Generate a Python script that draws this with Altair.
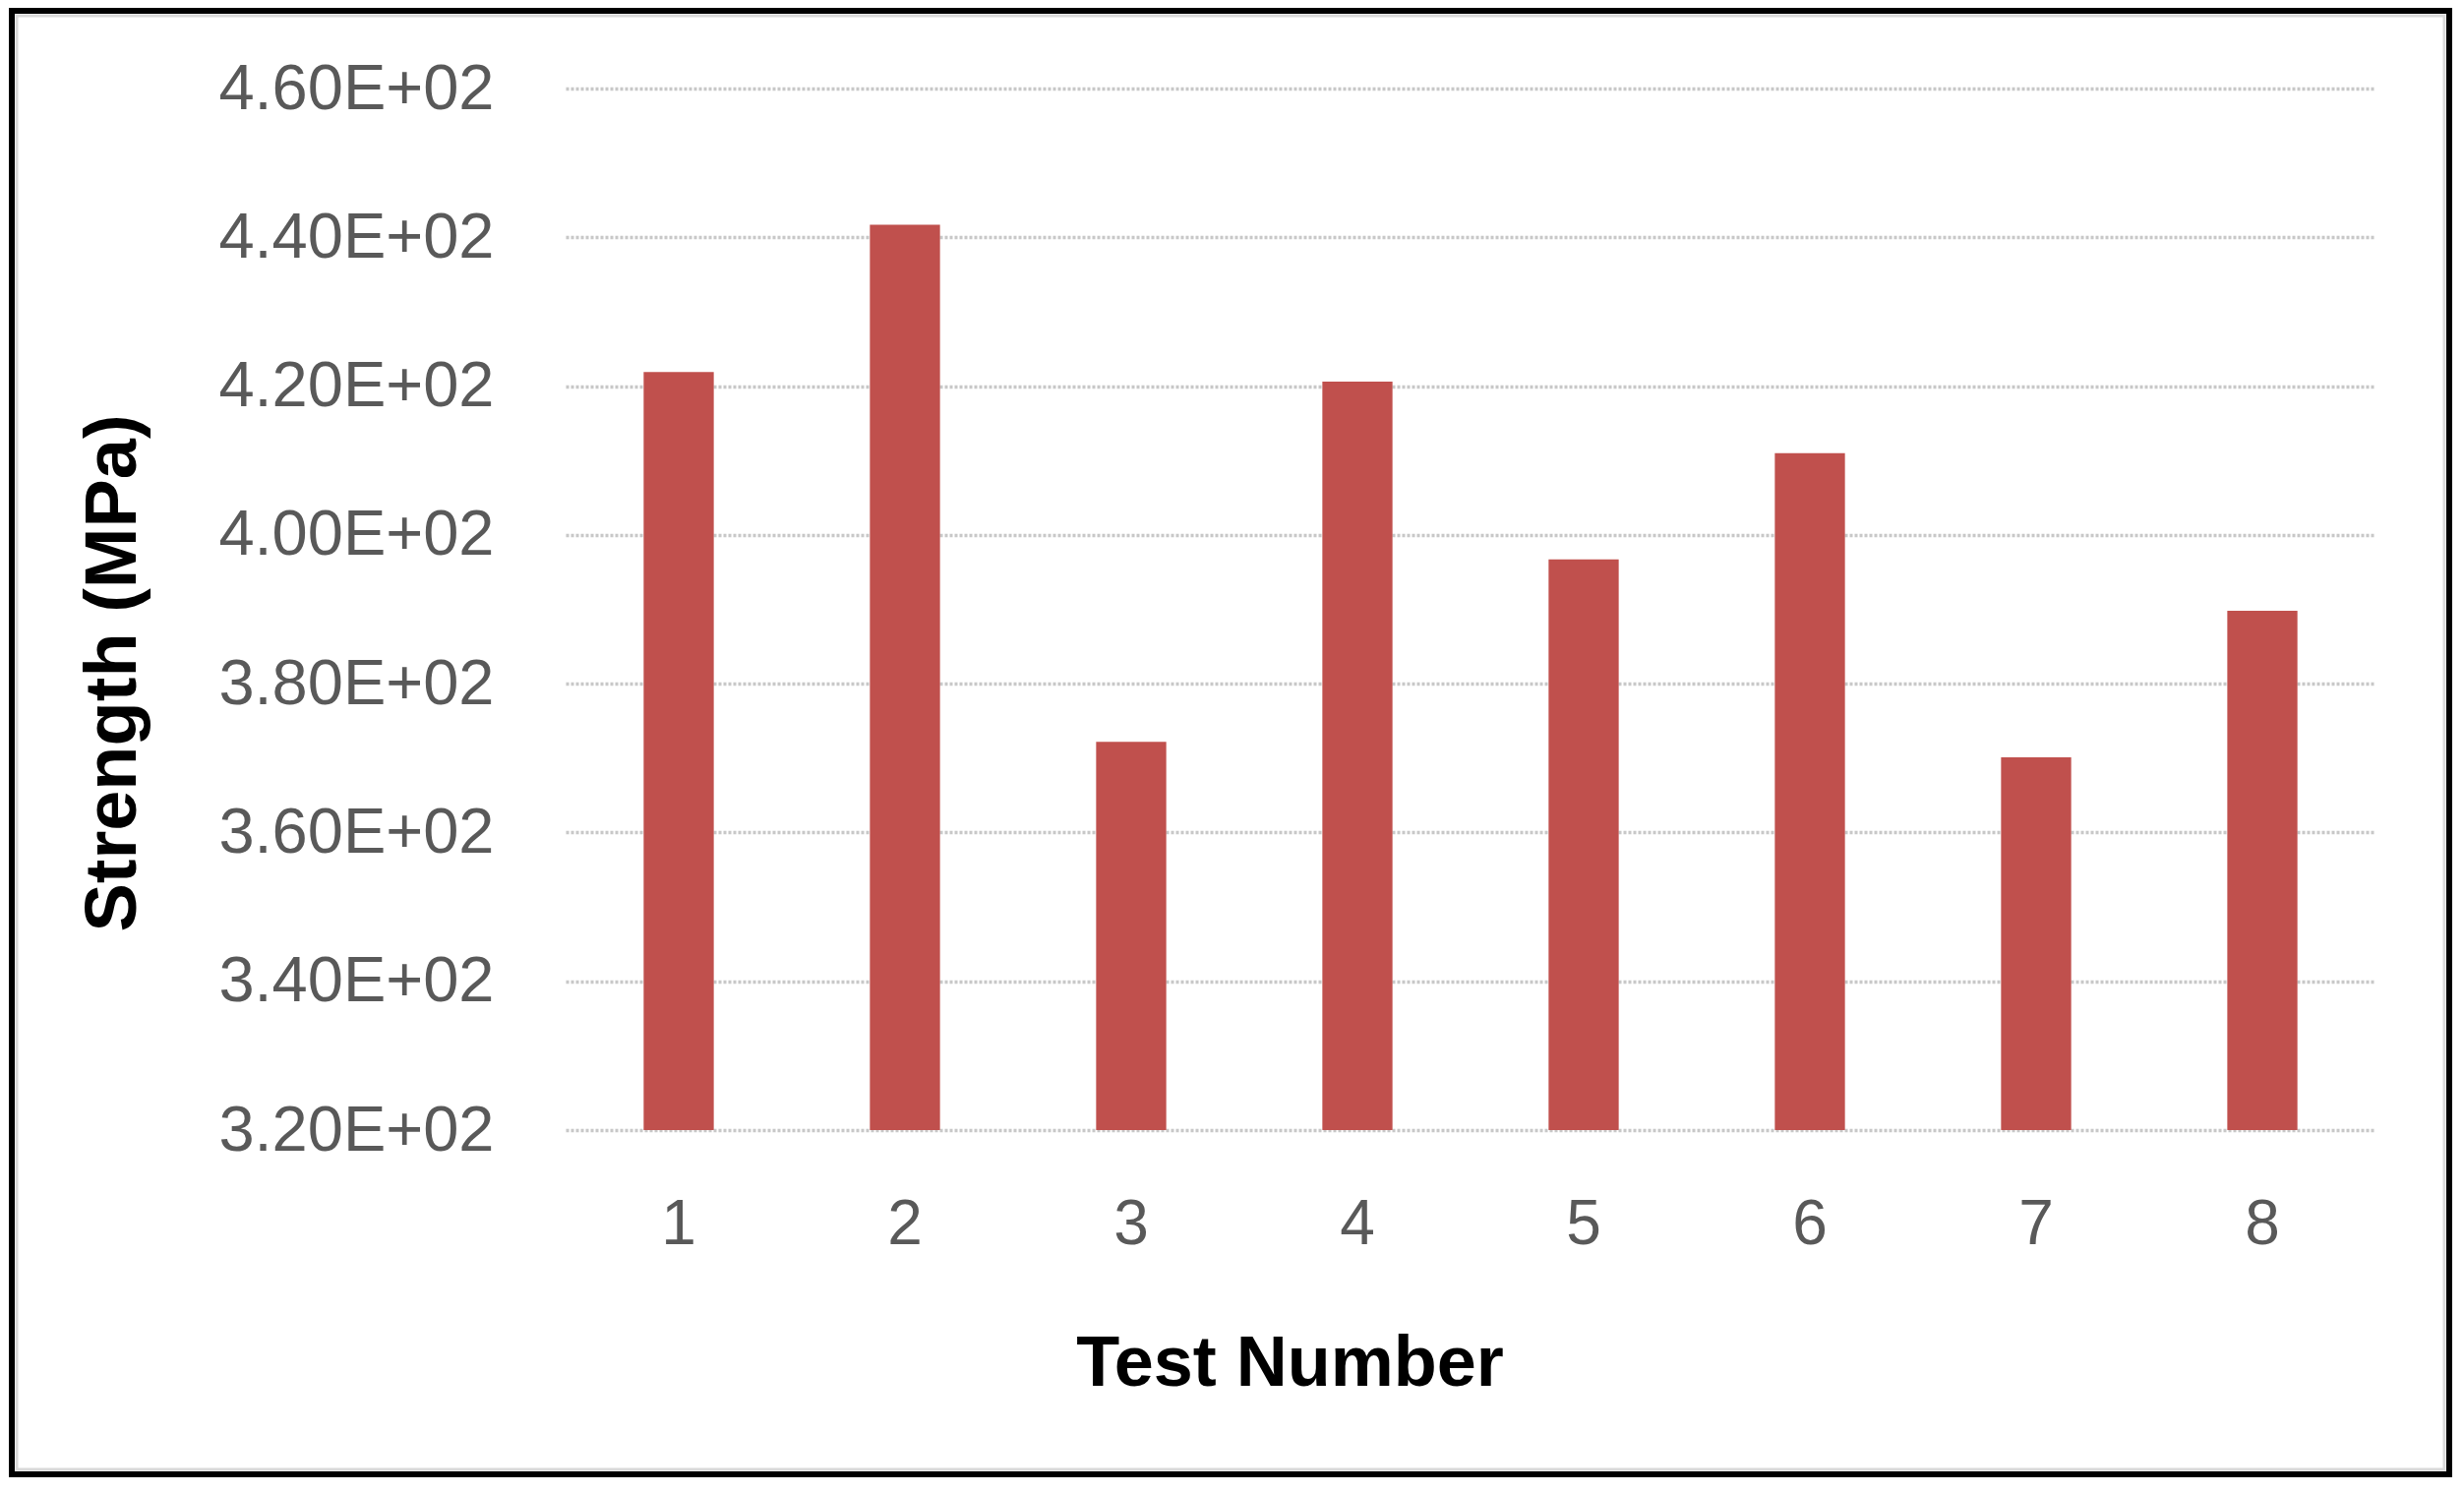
import altair as alt
import pandas as pd

# readings taken off the reference chart
test_numbers = ["1", "2", "3", "4", "5", "6", "7", "8"]
strength_mpa = [421.9, 441.7, 372.2, 420.6, 396.7, 411.0, 370.1, 389.8]
y_ticks = [320, 340, 360, 380, 400, 420, 440, 460]

data = pd.DataFrame({"test": test_numbers, "strength": strength_mpa})

bars = (
    alt.Chart(data)
    .mark_bar(color="#C0504D", clip=True)
    .encode(
        x=alt.X(
            "test:O",
            sort=test_numbers,
            scale=alt.Scale(paddingInner=0.69, paddingOuter=0.345),
            axis=alt.Axis(
                title="Test Number",
                labelAngle=0,
                labelPadding=64,
                labelFontSize=64,
                labelColor="#595959",
                labelFont="Liberation Sans",
                ticks=False,
                tickSize=0,
                domain=False,
                grid=False,
                titleFont="Liberation Sans",
                titleFontSize=72,
                titleFontWeight="bold",
                titleColor="#000000",
                titleBaseline="alphabetic",
                titleX=736,
                titleY=259,
            ),
        ),
        y=alt.Y(
            "strength:Q",
            scale=alt.Scale(domain=[320, 460], nice=False, zero=False),
            axis=alt.Axis(
                title="Strength (MPa)",
                values=y_ticks,
                labelExpr="format(datum.value / 100, '.2f') + 'E+02'",
                labelLimit=0,
                labelPadding=73,
                labelFontSize=65,
                labelColor="#595959",
                labelFont="Liberation Sans",
                ticks=False,
                tickSize=0,
                domain=False,
                grid=True,
                gridColor="#c8c8c8",
                gridWidth=3.5,
                gridDash=[3, 2],
                titleFont="Liberation Sans",
                titleFontSize=74,
                titleFontWeight="bold",
                titleColor="#000000",
                titleAngle=270,
                titleAlign="center",
                titleBaseline="alphabetic",
                titleX=-438,
                titleY=594,
            ),
        ),
    )
)

# chart frame (black outer line, light grey line inside it)
frame_df = pd.DataFrame({"frame": [0]})
outer = alt.Chart(frame_df).mark_rect(
    filled=False, stroke="#000000", strokeWidth=6
).encode(
    x=alt.value(-563), x2=alt.value(1915), y=alt.value(-79), y2=alt.value(1409)
)
inner = alt.Chart(frame_df).mark_rect(
    filled=False, stroke="#d9d9d9", strokeWidth=3
).encode(
    x=alt.value(-558), x2=alt.value(1910), y=alt.value(-74), y2=alt.value(1404)
)

chart = (
    alt.layer(bars, inner, outer)
    .properties(
        width=1840,
        height=1059,
        autosize=alt.AutoSizeParams(type="none"),
        padding={"left": 567, "top": 82, "right": 82, "bottom": 361},
        background="#ffffff",
    )
    .configure_view(stroke=None)
)

chart.save("out.html", embed_options={"renderer": "svg", "actions": False})
